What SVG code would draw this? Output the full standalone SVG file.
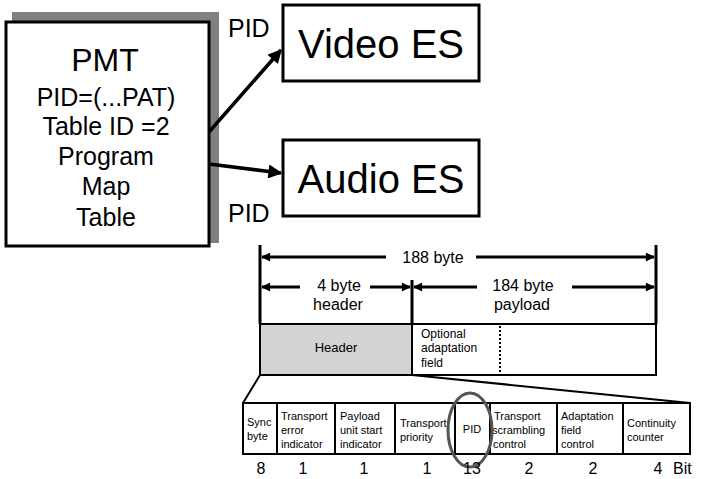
<svg xmlns="http://www.w3.org/2000/svg" width="701" height="479" viewBox="0 0 701 479">
<defs>
<style>
text{font-family:"Liberation Sans",Arial,sans-serif;fill:#000}
.box{fill:#fff;stroke:#000;stroke-width:3}
.fld{fill:#fff;stroke:#000;stroke-width:2}
.big{font-size:40px;text-anchor:middle}
.pmt{font-size:25px;text-anchor:middle}
.pid{font-size:25px}
.dim{font-size:16px;text-anchor:middle}
.lbl{font-size:11px}
.num{font-size:16px;text-anchor:middle}
.conn{stroke:#000;stroke-width:3.5;fill:none}
.dl{stroke:#000;stroke-width:3;fill:none}
</style>
<marker id="ah" viewBox="0 0 10 10" refX="9" refY="5" markerWidth="5" markerHeight="4" markerUnits="strokeWidth" orient="auto">
<path d="M0,0 L10,5 L0,10 Z" fill="#000"/>
</marker>
<marker id="dh" viewBox="0 0 10 10" refX="9" refY="5" markerWidth="4" markerHeight="3" markerUnits="strokeWidth" orient="auto-start-reverse">
<path d="M0,0 L10,5 L0,10 Z" fill="#000"/>
</marker>
</defs>
<rect width="701" height="479" fill="#fff"/>

<g id="pmt">
<rect x="12" y="12" width="207" height="231" fill="#808080"/>
<rect class="box" x="6" y="22" width="203" height="224"/>
<text class="pmt" x="105" y="71" style="font-size:32px">PMT</text>
<text class="pmt" x="106" y="106">PID=(...PAT)</text>
<text class="pmt" x="106" y="135">Table ID =2</text>
<text class="pmt" x="106" y="165">Program</text>
<text class="pmt" x="106" y="195">Map</text>
<text class="pmt" x="106" y="226">Table</text>
</g>

<g id="video">
<rect class="box" x="283" y="5" width="196" height="76"/>
<text class="big" x="381" y="58">Video ES</text>
</g>

<g id="audio">
<rect class="box" x="283" y="140" width="196" height="76"/>
<text class="big" x="381" y="193">Audio ES</text>
</g>

<g id="connectors">
<line class="conn" x1="209" y1="132" x2="281" y2="50" marker-end="url(#ah)"/>
<line class="conn" x1="209" y1="164" x2="281" y2="173" marker-end="url(#ah)"/>
<text class="pid" x="228" y="37">PID</text>
<text class="pid" x="228" y="222">PID</text>
</g>

<g id="dimensions">
<line class="dl" x1="260" y1="245" x2="260" y2="324"/>
<line class="dl" x1="656" y1="245" x2="656" y2="324"/>
<line class="dl" x1="412" y1="280" x2="412" y2="324"/>
<line class="dl" x1="262" y1="257" x2="386" y2="257" marker-start="url(#dh)"/>
<line class="dl" x1="476" y1="257" x2="654" y2="257" marker-end="url(#dh)"/>
<text class="dim" x="433" y="263">188 byte</text>
<line class="dl" x1="262" y1="287" x2="300" y2="287" marker-start="url(#dh)"/>
<line class="dl" x1="370" y1="287" x2="410" y2="287" marker-end="url(#dh)"/>
<text class="dim" x="339" y="291">4 byte</text>
<text class="dim" x="338" y="310">header</text>
<line class="dl" x1="414" y1="287" x2="477" y2="287" marker-start="url(#dh)"/>
<line class="dl" x1="572" y1="287" x2="654" y2="287" marker-end="url(#dh)"/>
<text class="dim" x="523" y="291">184 byte</text>
<text class="dim" x="522" y="310">payload</text>
</g>

<g id="packet">
<rect x="260" y="324" width="152" height="51" fill="#d3d3d3" stroke="#000" stroke-width="2"/>
<text x="336" y="352" style="font-size:13px;text-anchor:middle">Header</text>
<rect class="fld" x="412" y="324" width="244" height="51"/>
<text x="421" y="338" style="font-size:12px">Optional</text>
<text x="421" y="352" style="font-size:12px">adaptation</text>
<text x="421" y="367" style="font-size:12px">field</text>
<line x1="500" y1="326" x2="500" y2="374" stroke="#000" stroke-width="2" stroke-dasharray="2,2"/>
</g>

<g id="funnel">
<line x1="260" y1="375" x2="243" y2="403" stroke="#000" stroke-width="2"/>
<line x1="412" y1="375" x2="690" y2="403" stroke="#000" stroke-width="2"/>
</g>

<g id="fields">
<rect class="fld" x="243" y="403" width="447" height="51"/>
<line x1="277" y1="403" x2="277" y2="454" stroke="#000" stroke-width="2"/>
<line x1="335" y1="403" x2="335" y2="454" stroke="#000" stroke-width="2"/>
<line x1="395" y1="403" x2="395" y2="454" stroke="#000" stroke-width="2"/>
<line x1="455" y1="403" x2="455" y2="454" stroke="#000" stroke-width="2"/>
<line x1="490" y1="403" x2="490" y2="454" stroke="#000" stroke-width="2"/>
<line x1="557" y1="403" x2="557" y2="454" stroke="#000" stroke-width="2"/>
<line x1="623" y1="403" x2="623" y2="454" stroke="#000" stroke-width="2"/>
<text class="lbl" x="247" y="426">Sync</text>
<text class="lbl" x="247" y="440">byte</text>
<text class="lbl" x="281" y="420">Transport</text>
<text class="lbl" x="281" y="434">error</text>
<text class="lbl" x="281" y="448">indicator</text>
<text class="lbl" x="340" y="420">Payload</text>
<text class="lbl" x="340" y="434">unit start</text>
<text class="lbl" x="340" y="448">indicator</text>
<text class="lbl" x="400" y="427">Transport</text>
<text class="lbl" x="400" y="441">priority</text>
<text class="lbl" x="472" y="433" text-anchor="middle">PID</text>
<text class="lbl" x="494" y="420">Transport</text>
<text class="lbl" x="492" y="434">scrambling</text>
<text class="lbl" x="493" y="448">control</text>
<text class="lbl" x="561" y="420">Adaptation</text>
<text class="lbl" x="561" y="434">field</text>
<text class="lbl" x="561" y="448">control</text>
<text class="lbl" x="627" y="427">Continuity</text>
<text class="lbl" x="627" y="441">counter</text>
<ellipse cx="470" cy="430" rx="22" ry="37" fill="none" stroke="#555" stroke-width="3"/>
</g>

<g id="bits">
<text class="num" x="261" y="474">8</text>
<text class="num" x="303" y="474">1</text>
<text class="num" x="364" y="474">1</text>
<text class="num" x="427" y="474">1</text>
<text class="num" x="472" y="474">13</text>
<text class="num" x="529" y="474">2</text>
<text class="num" x="593" y="474">2</text>
<text class="num" x="658" y="474">4</text>
<text x="673" y="474" style="font-size:16px">Bit</text>
</g>
</svg>
